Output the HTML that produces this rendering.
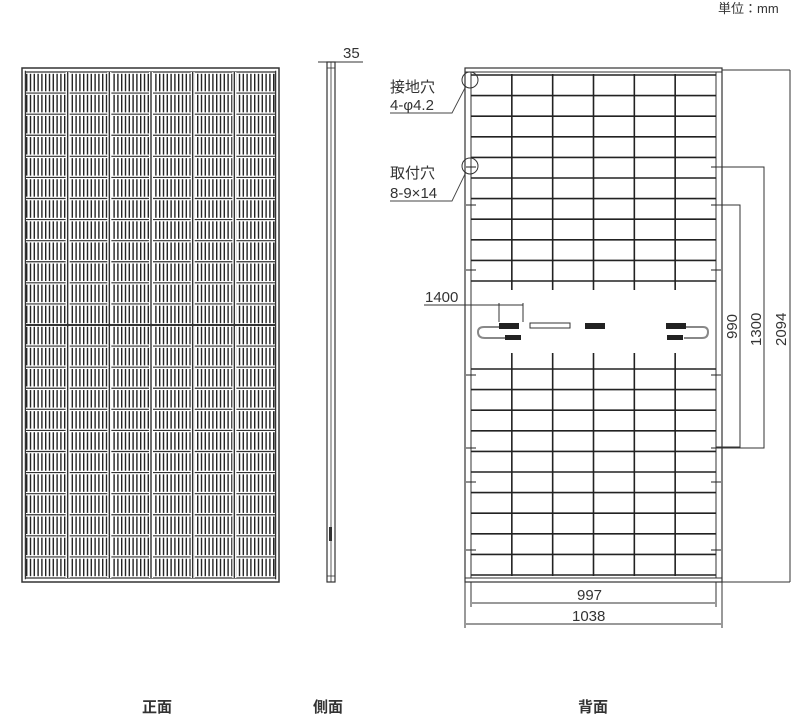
<!DOCTYPE html>
<html><head><meta charset="utf-8"><style>
html,body{margin:0;padding:0;background:#fff;width:800px;height:717px;overflow:hidden}
svg{display:block}
text{font-family:"Liberation Sans","Noto Sans CJK JP",sans-serif;fill:#333}
</style></head><body>
<svg id="s" width="800" height="717" viewBox="0 0 800 717" xmlns="http://www.w3.org/2000/svg">
<defs>
<pattern id="fing" x="26" y="0" width="3.8" height="10" patternUnits="userSpaceOnUse">
<rect x="0" y="0" width="1.4" height="10" fill="#222"/>
</pattern>
</defs>
<text x="718" y="13" font-size="13">単位：mm</text>
<!-- front -->
<rect x="22" y="68" width="257" height="514" fill="none" stroke="#333" stroke-width="1.5"/>
<rect x="25.5" y="71.5" width="250" height="507" fill="url(#fing)" stroke="#333" stroke-width="1.5"/>
<g id="front"></g>
<!-- side -->
<rect x="327" y="62" width="8" height="520" fill="none" stroke="#333" stroke-width="1.2"/>
<line x1="331" y1="62" x2="331" y2="582" stroke="#333" stroke-width="0.8"/>
<line x1="327" y1="68" x2="335" y2="68" stroke="#333" stroke-width="0.8"/>
<line x1="327" y1="576" x2="335" y2="576" stroke="#333" stroke-width="0.8"/>
<rect x="329" y="527" width="3" height="14" fill="#333"/>
<line x1="318" y1="62" x2="363" y2="62" stroke="#333" stroke-width="1"/>
<text x="343" y="58" font-size="15">35</text>
<!-- back -->
<rect x="465" y="68" width="257" height="514" fill="none" stroke="#333" stroke-width="1.2"/>
<line x1="471" y1="72" x2="471" y2="578" stroke="#333" stroke-width="1"/>
<line x1="716" y1="72" x2="716" y2="578" stroke="#333" stroke-width="1"/>
<line x1="465" y1="72" x2="722" y2="72" stroke="#333" stroke-width="1"/>
<line x1="465" y1="578" x2="722" y2="578" stroke="#333" stroke-width="1"/>
<g id="back" stroke="#222" stroke-width="1.6"></g>
<!-- junction boxes -->
<g stroke="#333" fill="none" stroke-width="1">
<path d="M499 303 V322 M523 303 V322 M499 305 H523"/>
<rect x="530" y="323" width="40" height="5" stroke-width="1"/>
<path d="M501 327 H484 Q478 327 478 332 Q478 338 485 338 H505" stroke="#888" stroke-width="2"/>
<path d="M683 327 H703 Q708 327 708 332 Q708 338 702 338 H684" stroke="#888" stroke-width="2"/>
</g>
<g fill="#222">
<rect x="499" y="323" width="20" height="6"/>
<rect x="505" y="335" width="16" height="5"/>
<rect x="585" y="323" width="20" height="6"/>
<rect x="666" y="323" width="20" height="6"/>
<rect x="667" y="335" width="16" height="5"/>
</g>
<line x1="424" y1="305" x2="500" y2="305" stroke="#333" stroke-width="1"/>
<text x="425" y="302" font-size="15">1400</text>
<!-- labels -->
<text x="390" y="92" font-size="15">接地穴</text>
<text x="390" y="110" font-size="15">4-φ4.2</text>
<path d="M390 113 H452 L466 86" stroke="#444" fill="none" stroke-width="0.9"/>
<circle cx="470" cy="80" r="8" fill="none" stroke="#333" stroke-width="1"/>
<text x="390" y="178" font-size="15">取付穴</text>
<text x="390" y="198" font-size="15">8-9×14</text>
<path d="M390 201 H452 L466 172" stroke="#444" fill="none" stroke-width="0.9"/>
<circle cx="470" cy="166" r="8" fill="none" stroke="#333" stroke-width="1"/>
<!-- right dims -->
<g stroke="#333" stroke-width="1" fill="none">
<path d="M722 70 H790 M790 70 V582 M722 582 H790"/>
<path d="M716 167 H764 V448 H716"/>
<path d="M716 205 H740 V447 H716"/>
<path d="M465 582 V628 M722 582 V628 M471 582 V607 M716 582 V607"/>
<path d="M466 624 H721 M472 603 H715"/>
</g>
<text transform="translate(786,346) rotate(-90)" font-size="15">2094</text>
<text transform="translate(761,346) rotate(-90)" font-size="15">1300</text>
<text transform="translate(737,339) rotate(-90)" font-size="15">990</text>
<text x="577" y="600" font-size="15">997</text>
<text x="572" y="621" font-size="15">1038</text>
<text x="142" y="712" font-size="15" font-weight="bold">正面</text>
<text x="313" y="712" font-size="15" font-weight="bold">側面</text>
<text x="578" y="712" font-size="15" font-weight="bold">背面</text>
</svg>
<script>
var NS="http://www.w3.org/2000/svg";
function L(g,x1,y1,x2,y2,c,w){var l=document.createElementNS(NS,"line");l.setAttribute("x1",x1);l.setAttribute("y1",y1);l.setAttribute("x2",x2);l.setAttribute("y2",y2);l.setAttribute("stroke",c);l.setAttribute("stroke-width",w);g.appendChild(l);}
var f=document.getElementById("front");
var cw=250/6,rh=253/12;
for(var r=0;r<=24;r++){var y=72+r*rh;
 var b=document.createElementNS(NS,"rect");b.setAttribute("x",26);b.setAttribute("y",y-1.8);b.setAttribute("width",249);b.setAttribute("height",3.6);b.setAttribute("fill","#fff");f.appendChild(b);
 L(f,26,y,275,y,"#333",1.2);}
for(var c=1;c<6;c++){var x=26+c*cw;
 var b=document.createElementNS(NS,"rect");b.setAttribute("x",x-2);b.setAttribute("y",72);b.setAttribute("width",4);b.setAttribute("height",506);b.setAttribute("fill","#fff");f.appendChild(b);
 L(f,x,72,x,578,"#333",1.4);}
L(f,26,325,275,325,"#333",2);
var g=document.getElementById("back");
var bw=245/6;
for(var c=1;c<6;c++){var x=471+c*bw;L(g,x,74,x,290,"#222",1.6);L(g,x,353,x,576,"#222",1.6);}
for(var i=0;i<11;i++){var y=75+i*20.6;L(g,471,y,716,y,"#222",1.6);}
for(var i=0;i<11;i++){var y=369+i*20.6;L(g,471,y,716,y,"#222",1.6);}
[167,205,270,375,448,482,550].forEach(function(y){L(g,466,y,476,y,"#222",1);L(g,711,y,721,y,"#222",1);});
</script>
</body></html>
